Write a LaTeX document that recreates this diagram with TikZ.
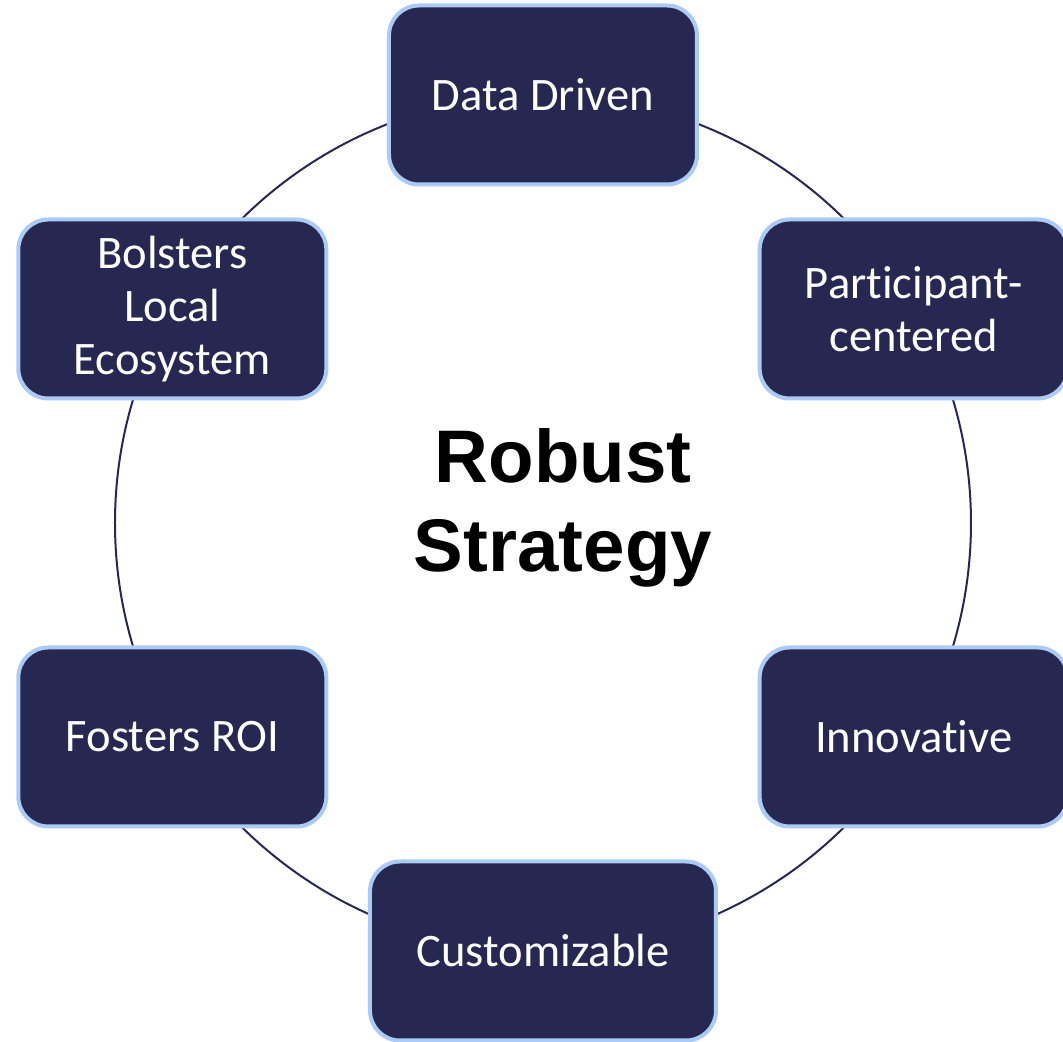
\documentclass[tikz,border=0pt]{standalone}
\usepackage{fontspec}
\setmainfont{Carlito}[Ligatures=NoCommon]
\newfontfamily\headfont{Liberation Sans}
\definecolor{navy}{HTML}{262852}
\definecolor{rim}{HTML}{A9CBF5}
\tikzset{
  pillar/.style={rectangle, rounded corners=0.6cm, fill=navy, draw=rim, line width=0.08cm,
    text=white, minimum width=6.16cm, minimum height=3.58cm, inner sep=0pt,
    align=center, font=\fontsize{26.5}{30}\selectfont},
  ring/.style={draw=navy, line width=0.04cm}
}
\begin{document}
\begin{tikzpicture}
\useasboundingbox (-10.86,-10.38) rectangle (10.40,10.46);
\coordinate (hub) at (0,0);
\draw[ring] (hub) circle[radius=8.56];
\node[pillar] (pid0) at (90:8.56){Data Driven};
\node[pillar] (pid1) at (30:8.56){Participant-\\centered};
\node[pillar] (pid2) at (-30:8.56){Innovative};
\node[pillar, minimum width=6.92cm] (pid3) at (-90:8.56){Customizable};
\node[pillar] (pid4) at (210:8.56){Fosters ROI};
\node[pillar] (pid5) at (150:8.56){Bolsters\\Local\\Ecosystem};
\node[font=\headfont\bfseries\fontsize{42.4}{50.5}\selectfont, align=center] (goal) at (0.4,0.3){Robust\\Strategy};

\end{tikzpicture}
\end{document}
